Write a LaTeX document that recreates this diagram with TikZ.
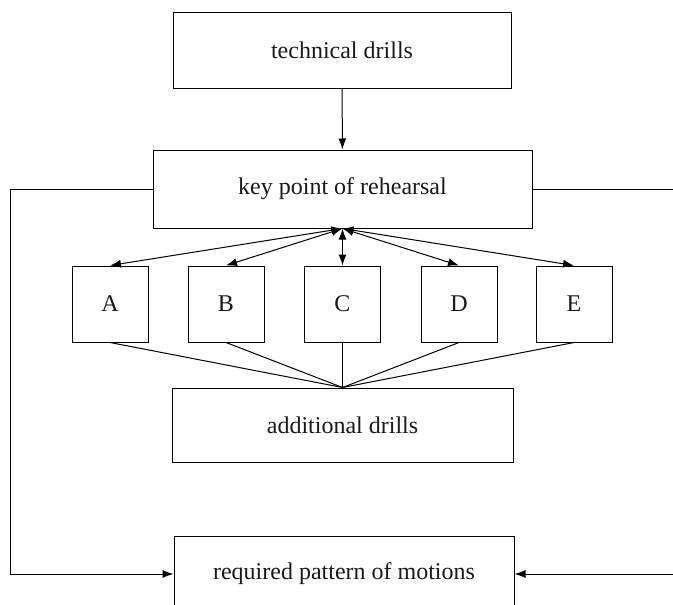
\documentclass[tikz,border=0pt]{standalone}
\usepackage{fontspec}
\setmainfont{Liberation Serif}
\usetikzlibrary{arrows.meta}
\begin{document}
\begin{tikzpicture}[x=1pt,y=-1pt,
  box/.style={draw, line width=1pt, inner sep=0pt, font=\fontsize{24}{28}\selectfont, text=black!90},
  bigbox/.style={box, minimum height=76pt},
  smallbox/.style={box, minimum width=76pt, minimum height=76pt},
  conn/.style={line width=1pt},
  arr/.style={conn, -{Latex[length=11pt,width=8pt]}},
  darr/.style={conn, {Latex[length=11pt,width=8pt]}-{Latex[length=11pt,width=8pt]}}]
\useasboundingbox (0,0) rectangle (673,605);
\clip (0,0) rectangle (673,605);
\node[bigbox, minimum width=338pt] (tech) at (342,50) {technical drills};
\node[bigbox, minimum width=379pt, minimum height=78pt] (key) at (342.5,189) {key point of rehearsal};
\node[smallbox] (A) at (110,304) {A};
\node[smallbox] (B) at (226,304) {B};
\node[smallbox] (C) at (342.5,304) {C};
\node[smallbox] (D) at (459,304) {D};
\node[smallbox] (E) at (574,304) {E};
\node[bigbox, minimum width=341pt, minimum height=74pt] (add) at (342.5,425) {additional drills};
\node[bigbox, minimum width=340pt, minimum height=76pt] (req) at (344,574) {required pattern of motions};
\coordinate (lt) at (10,189);
\coordinate (lb) at (10,574);
\coordinate (rt) at (673,189);
\coordinate (rb) at (673,574);
\draw[arr] (tech) -- (key);
\foreach \n in {A,B,C,D,E} {
  \draw[darr] (key.south) -- (\n.north);
  \draw[conn] (\n.south) -- (add.north);
}
\draw[arr] (key.west) -- (lt) -- (lb) -- (req.west);
\draw[conn] (key.east) -- (rt);
\draw[arr] (rb) -- (req.east);
\end{tikzpicture}
\end{document}
